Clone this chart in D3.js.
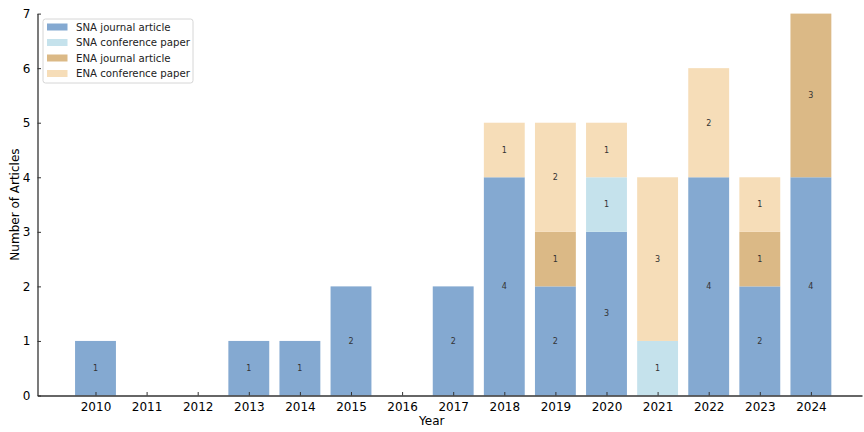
<!DOCTYPE html>
<html>
<head>
<meta charset="utf-8">
<script src="https://cdn.jsdelivr.net/npm/d3@7"></script>
<style>
  body { margin: 0; background: #fff; }
  svg { font-family: "DejaVu Sans", sans-serif; }
</style>
</head>
<body>
<div id="chart"></div>
<script>
// Publication counts per year, split by type
var years = [2010, 2011, 2012, 2013, 2014, 2015, 2016, 2017, 2018, 2019, 2020, 2021, 2022, 2023, 2024];
var snaJournal    = [1, 0, 0, 1, 1, 2, 0, 2, 4, 2, 3, 0, 4, 2, 4];
var snaConference = [0, 0, 0, 0, 0, 0, 0, 0, 0, 0, 1, 1, 0, 0, 0];
var enaJournal    = [0, 0, 0, 0, 0, 0, 0, 0, 0, 1, 0, 0, 0, 1, 3];
var enaConference = [0, 0, 0, 0, 0, 0, 0, 0, 1, 2, 1, 3, 2, 1, 0];
var seriesNames = ["SNA journal article", "SNA conference paper", "ENA journal article", "ENA conference paper"];
var seriesColors = ["#84a9d1", "#c5e2ec", "#dbb986", "#f6ddb8"];
var yTicks = [0, 1, 2, 3, 4, 5, 6, 7];

var width = 864, height = 432;
var plot = {left: 37.5, right: 862, top: 13.6, bottom: 395.5};

var svg = d3.select("#chart").append("svg")
    .attr("width", width)
    .attr("height", height);

var xScale = d3.scaleLinear()
    .domain([2008.865, 2025])
    .range([plot.left, plot.right]);
var yScale = d3.scaleLinear()
    .domain([0, 7])
    .range([plot.bottom, plot.top]);

var barWidth = (xScale(2011) - xScale(2010)) * 0.8;

// build table for the stack layout
var table = years.map(function (y, i) {
  return {
    year: y,
    "SNA journal article": snaJournal[i],
    "SNA conference paper": snaConference[i],
    "ENA journal article": enaJournal[i],
    "ENA conference paper": enaConference[i]
  };
});
var stacked = d3.stack().keys(seriesNames)(table);

var layer = svg.selectAll("g.layer")
    .data(stacked)
  .enter().append("g")
    .attr("class", "layer")
    .attr("fill", function (d, i) { return seriesColors[i]; });

layer.selectAll("rect")
    .data(function (d) { return d.filter(function (s) { return s[1] - s[0] > 0; }); })
  .enter().append("rect")
    .attr("x", function (d) { return xScale(d.data.year) - barWidth / 2; })
    .attr("width", barWidth)
    .attr("y", function (d) { return yScale(d[1]); })
    .attr("height", function (d) { return yScale(d[0]) - yScale(d[1]); });

layer.selectAll("text")
    .data(function (d) { return d.filter(function (s) { return s[1] - s[0] > 0; }); })
  .enter().append("text")
    .attr("x", function (d) { return xScale(d.data.year); })
    .attr("y", function (d) { return yScale((d[0] + d[1]) / 2); })
    .attr("dy", "0.35em")
    .attr("text-anchor", "middle")
    .attr("font-size", "8px")
    .attr("fill", "#333")
    .text(function (d) { return d[1] - d[0]; });

// axes, ticks pointing inward
var xAxis = d3.axisBottom(xScale)
    .tickValues(years)
    .tickFormat(d3.format("d"))
    .tickSizeInner(-3.5)
    .tickSizeOuter(0)
    .tickPadding(7);
var yAxis = d3.axisLeft(yScale)
    .tickValues(yTicks)
    .tickFormat(d3.format("d"))
    .tickSizeInner(-3.5)
    .tickSizeOuter(0)
    .tickPadding(7);

var gx = svg.append("g")
    .attr("transform", "translate(0," + plot.bottom + ")")
    .call(xAxis);
var gy = svg.append("g")
    .attr("transform", "translate(" + plot.left + ",0)")
    .call(yAxis);

[gx, gy].forEach(function (g) {
  g.selectAll("text").attr("font-size", "12px").attr("fill", "#000")
    .attr("font-family", "DejaVu Sans, sans-serif");
  g.select(".domain").attr("stroke", "#333").attr("stroke-width", 1.3);
  g.selectAll(".tick line").attr("stroke", "#333");
});

svg.append("text")
    .attr("x", (plot.left + plot.right) / 2 - 18)
    .attr("y", 425)
    .attr("text-anchor", "middle")
    .attr("font-size", "12px")
    .text("Year");

svg.append("text")
    .attr("transform", "translate(19," + ((plot.top + plot.bottom) / 2) + ") rotate(-90)")
    .attr("text-anchor", "middle")
    .attr("font-size", "12px")
    .text("Number of Articles");

// legend
var legend = svg.append("g").attr("transform", "translate(43,19)");
legend.append("rect")
    .attr("width", 150)
    .attr("height", 64)
    .attr("rx", 2.5)
    .attr("fill", "#fff")
    .attr("fill-opacity", 0.8)
    .attr("stroke", "#d6d6d6");

var item = legend.selectAll("g.item")
    .data(seriesNames)
  .enter().append("g")
    .attr("class", "item")
    .attr("transform", function (d, i) { return "translate(4," + (8 + i * 15.5) + ")"; });

item.append("rect")
    .attr("width", 20.5)
    .attr("height", 7)
    .attr("y", -3.5)
    .attr("fill", function (d, i) { return seriesColors[i]; });

item.append("text")
    .attr("x", 29)
    .attr("dy", "0.35em")
    .attr("font-size", "10.2px")
    .attr("fill", "#222")
    .text(function (d) { return d; });
</script>
</body>
</html>
